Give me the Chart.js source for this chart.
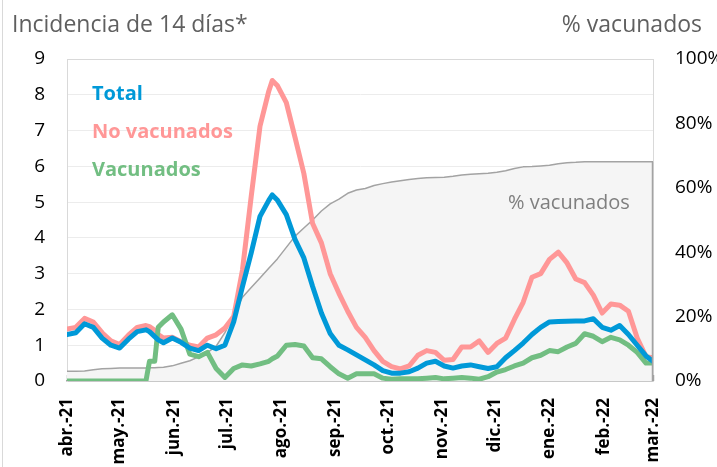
<!DOCTYPE html>
<html lang="es">
<head>
<meta charset="utf-8">
<title>Incidencia de 14 días</title>
<script src="https://cdn.jsdelivr.net/npm/chart.js@4.4.1/dist/chart.umd.min.js"></script>
<style>
  html, body { margin: 0; padding: 0; background: #fff; }
  #wrap { width: 717px; height: 467px; }
</style>
</head>
<body>
<div id="wrap"><canvas id="chart" width="717" height="467"></canvas></div>
<script>
// dias contados desde el 1 de abril de 2021
const days = [0, 5, 10, 15, 20, 25, 30, 35, 40, 45, 47, 50, 52, 55, 60, 65, 70, 75, 80, 85,
  90, 95, 100, 105, 110, 115, 117, 120, 125, 130, 135, 140, 145, 150, 155, 160, 165, 170, 175, 180, 185,
  190, 195, 200, 205, 210, 215, 220, 225, 230, 235, 240, 245, 250, 255, 260, 265, 270, 275, 280, 285,
  290, 295, 300, 305, 310, 315, 320, 325, 330, 334];

const total = [1.3, 1.35, 1.6, 1.5, 1.2, 1.0, 0.92, 1.17, 1.38, 1.43, 1.38, 1.24, 1.15, 1.07, 1.2, 1.08, 0.92, 0.85, 1.0, 0.9,
  1.0, 1.65, 2.64, 3.58, 4.6, 5.05, 5.2, 5.05, 4.65, 3.95, 3.44, 2.64, 1.9, 1.33, 1.0, 0.87, 0.73, 0.59, 0.45, 0.29, 0.22,
  0.22, 0.26, 0.36, 0.5, 0.55, 0.42, 0.36, 0.42, 0.45, 0.4, 0.35, 0.4, 0.65, 0.85, 1.06, 1.3, 1.5, 1.65, 1.66, 1.67,
  1.68, 1.68, 1.74, 1.5, 1.42, 1.55, 1.3, 1.0, 0.7, 0.55];

const noVacunados = [1.45, 1.5, 1.75, 1.65, 1.35, 1.12, 1.02, 1.28, 1.5, 1.55, 1.52, 1.42, 1.3, 1.2, 1.22, 1.1, 1.0, 0.95, 1.2, 1.29,
  1.48, 1.8, 3.1, 5.16, 7.12, 8.1, 8.4, 8.25, 7.78, 6.8, 5.8, 4.4, 3.86, 3.0, 2.45, 1.95, 1.5, 1.22, 0.85, 0.55, 0.4,
  0.34, 0.42, 0.72, 0.85, 0.8, 0.58, 0.6, 0.95, 0.95, 1.12, 0.8, 1.05, 1.2, 1.72, 2.2, 2.9, 3.0, 3.4, 3.6, 3.3,
  2.85, 2.75, 2.4, 1.9, 2.15, 2.12, 1.95, 1.2, 0.68, 0.65];

const vacunados = [0, 0, 0, 0, 0, 0, 0, 0, 0, 0, 0.55, 0.55, 1.5, 1.65, 1.85, 1.45, 0.75, 0.68, 0.8, 0.35,
  0.1, 0.35, 0.45, 0.42, 0.48, 0.55, 0.62, 0.7, 1.0, 1.02, 0.98, 0.65, 0.62, 0.4, 0.2, 0.08, 0.2, 0.2, 0.2, 0.08, 0.05,
  0.06, 0.06, 0.06, 0.08, 0.1, 0.06, 0.08, 0.1, 0.08, 0.05, 0.12, 0.25, 0.32, 0.42, 0.5, 0.65, 0.72, 0.85, 0.82, 0.95,
  1.05, 1.32, 1.25, 1.1, 1.22, 1.15, 1.0, 0.8, 0.5, 0.5];

const pctVacunados = [3.0, 3.0, 3.1, 3.5, 3.8, 3.9, 4.0, 4.0, 4.0, 4.0, 4.1, 4.1, 4.2, 4.3, 4.7, 5.5, 6.3, 7.5, 8.8, 10.8,
  15, 20.5, 26, 29, 32, 35, 36.2, 38, 41.5, 45, 47.5, 50, 52.8, 55, 56.5, 58.3, 59.3, 59.8, 60.7, 61.3, 61.8,
  62.2, 62.6, 62.9, 63.1, 63.2, 63.3, 63.6, 64.0, 64.2, 64.4, 64.5, 64.8, 65.3, 66, 66.5, 66.6, 66.8, 67, 67.5, 67.8,
  67.9, 68.1, 68.1, 68.1, 68.1, 68.1, 68.1, 68.1, 68.1, 68.1];

const monthStarts = [0, 30, 61, 91, 122, 153, 183, 214, 244, 275, 306, 334];
const monthLabels = ['abr.-21', 'may.-21', 'jun.-21', 'jul.-21', 'ago.-21', 'sep.-21',
  'oct.-21', 'nov.-21', 'dic.-21', 'ene.-22', 'feb.-22', 'mar.-22'];

const FONT = "'Open Sans', 'Noto Sans', sans-serif";
const BLUE = '#0099d8';
const PINK = '#ff9797';
const GREEN = '#72be82';
const GRAY = '#a3a3a3';

const toPoints = values => days.map((d, i) => ({ x: d, y: values[i] }));

// textos, bordes y marcas del eje x hacia dentro
const decor = {
  id: 'decor',
  beforeDatasetsDraw(chart) {
    const { ctx, chartArea } = chart;
    const x = chart.scales.x;
    ctx.save();
    ctx.strokeStyle = GRAY;
    ctx.lineWidth = 1.5;
    monthStarts.forEach(v => {
      const px = Math.round(x.getPixelForValue(v)) + 0.5;
      ctx.beginPath();
      ctx.moveTo(px, chartArea.bottom);
      ctx.lineTo(px, chartArea.bottom - 6);
      ctx.stroke();
    });
    ctx.restore();
  },
  afterDraw(chart) {
    const { ctx, chartArea } = chart;
    const y2 = chart.scales.y2;
    ctx.save();

    // borde superior del area
    ctx.strokeStyle = '#d9d9d9';
    ctx.lineWidth = 1;
    ctx.beginPath();
    ctx.moveTo(chartArea.left, chartArea.top + 0.5);
    ctx.lineTo(chartArea.right, chartArea.top + 0.5);
    ctx.stroke();

    // borde del recuadro exterior
    ctx.beginPath();
    ctx.moveTo(2.5, 0);
    ctx.lineTo(2.5, chart.height);
    ctx.stroke();

    // cierre vertical del area de % vacunados
    const yEnd = y2.getPixelForValue(pctVacunados[pctVacunados.length - 1]);
    ctx.strokeStyle = GRAY;
    ctx.lineWidth = 1.5;
    ctx.beginPath();
    ctx.moveTo(chartArea.right - 0.5, yEnd);
    ctx.lineTo(chartArea.right - 0.5, chartArea.bottom);
    ctx.stroke();

    ctx.textBaseline = 'alphabetic';
    ctx.fillStyle = '#5f5f5f';
    ctx.font = `23px ${FONT}`;
    ctx.textAlign = 'left';
    ctx.fillText('Incidencia de 14 días*', 12, 31.5);
    ctx.textAlign = 'right';
    ctx.fillText('% vacunados', 702, 31.5);

    ctx.textAlign = 'left';
    ctx.font = `bold 20px ${FONT}`;
    ctx.fillStyle = BLUE;
    ctx.fillText('Total', 92, 99.5);
    ctx.fillStyle = PINK;
    ctx.fillText('No vacunados', 92, 137.5);
    ctx.fillStyle = GREEN;
    ctx.fillText('Vacunados', 92, 175.5);

    ctx.font = `20px ${FONT}`;
    ctx.fillStyle = '#7f7f7f';
    ctx.fillText('% vacunados', 508, 209);
    ctx.restore();
  }
};

new Chart(document.getElementById('chart'), {
  type: 'line',
  data: {
    datasets: [
      {
        label: 'Total',
        data: toPoints(total),
        borderColor: BLUE,
        borderWidth: 5,
        order: 1
      },
      {
        label: 'Vacunados',
        data: toPoints(vacunados),
        borderColor: GREEN,
        borderWidth: 5,
        order: 2
      },
      {
        label: 'No vacunados',
        data: toPoints(noVacunados),
        borderColor: PINK,
        borderWidth: 5,
        order: 3
      },
      {
        label: '% vacunados',
        data: toPoints(pctVacunados),
        yAxisID: 'y2',
        borderColor: GRAY,
        borderWidth: 1.5,
        backgroundColor: '#f5f5f5',
        fill: 'origin',
        order: 4
      }
    ]
  },
  options: {
    responsive: false,
    animation: false,
    layout: { padding: { top: 59, left: 0, right: 0, bottom: 0 } },
    elements: {
      point: { radius: 0 },
      line: { tension: 0, borderJoinStyle: 'round', borderCapStyle: 'round' }
    },
    plugins: {
      legend: { display: false },
      tooltip: { enabled: false }
    },
    scales: {
      x: {
        type: 'linear',
        min: 0,
        max: 334,
        afterBuildTicks: scale => { scale.ticks = monthStarts.map(v => ({ value: v })); },
        afterFit: scale => { scale.height = 86; },
        grid: { display: false, drawTicks: false },
        border: { display: true, color: GRAY, width: 1.5 },
        ticks: {
          autoSkip: false,
          minRotation: 90,
          maxRotation: 90,
          padding: 17,
          color: '#000',
          font: { family: FONT, size: 17, weight: 'bold' },
          callback: value => monthLabels[monthStarts.indexOf(value)]
        }
      },
      y: {
        position: 'left',
        min: 0,
        max: 9,
        afterFit: scale => { scale.width = 67; },
        grid: { color: '#ececec', drawTicks: false },
        border: { display: true, color: '#d9d9d9' },
        ticks: {
          stepSize: 1,
          padding: 22,
          color: '#000',
          font: { family: FONT, size: 19 }
        }
      },
      y2: {
        position: 'right',
        min: 0,
        max: 100,
        afterFit: scale => { scale.width = 64; },
        grid: { display: false, drawTicks: false },
        border: { display: true, color: '#d9d9d9' },
        ticks: {
          stepSize: 20,
          padding: 22,
          color: '#000',
          font: { family: FONT, size: 19 },
          callback: value => value + '%'
        }
      }
    }
  },
  plugins: [decor]
});
</script>
</body>
</html>
